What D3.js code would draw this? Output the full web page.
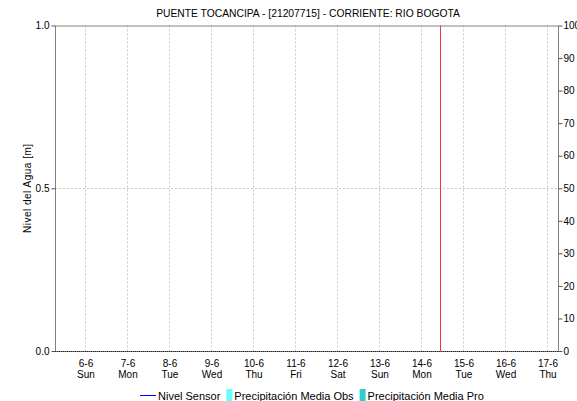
<!DOCTYPE html>
<html>
<head>
<meta charset="utf-8">
<script src="https://d3js.org/d3.v7.min.js"></script>
<style>
  body { margin: 0; background: #fff; }
  svg { display: block; font-family: "Liberation Sans", Arial, sans-serif; }
</style>
</head>
<body>
<svg id="chart" width="577" height="401"></svg>
<script>
// Station and series description
const chartTitle = "PUENTE TOCANCIPA - [21207715] - CORRIENTE: RIO BOGOTA";
const leftAxisTitle = "Nivel del Agua [m]";

// Time window (local dates, June)
const timeStart = new Date(2021, 5, 5, 6, 0);
const timeEnd = new Date(2021, 5, 17, 6, 0);
const dayTicks = d3.range(6, 18).map(d => new Date(2021, 5, d));
const weekdayNames = ["Sun", "Mon", "Tue", "Wed", "Thu", "Fri", "Sat"];

// Current-time marker
const nowMarker = new Date(2021, 5, 14, 10, 30);

// Axis ticks
const levelTicks = [0, 0.5, 1.0];
const rainTicks = d3.range(0, 101, 10);

// Series (no readings in this window: level and rain stay at zero)
const sensorLevel = [
  { t: timeStart, v: 0 },
  { t: timeEnd, v: 0 }
];

const legendItems = [
  { label: "Nivel Sensor", type: "line", color: "#0000ff" },
  { label: "Precipitación Media Obs", type: "rect", color: "#66ffff" },
  { label: "Precipitación Media Pro", type: "rect", color: "#33cccc" }
];

const svg = d3.select("#chart");
const margin = { left: 55, right: 19, top: 25.5, bottom: 50 };
const W = 577, H = 401;
const x0 = margin.left, x1 = W - margin.right;
const y0 = margin.top, y1 = H - margin.bottom;

const x = d3.scaleTime().domain([timeStart, timeEnd]).range([x0, x1]);
const yL = d3.scaleLinear().domain([0, 1]).range([y1, y0]);
const yR = d3.scaleLinear().domain([0, 100]).range([y1, y0]);

const gridColor = "#c8c8c8";
const frameColor = "#808080";
const fs = 10;

// Vertical day grid
svg.append("g").selectAll("line").data(dayTicks).join("line")
  .attr("x1", d => Math.round(x(d)) - 0.5).attr("x2", d => Math.round(x(d)) - 0.5)
  .attr("y1", y0).attr("y2", y1)
  .attr("stroke", gridColor).attr("stroke-dasharray", "2,2");

// Horizontal grid at middle level tick
svg.append("g").selectAll("line").data(levelTicks.filter(v => v > 0 && v < 1)).join("line")
  .attr("x1", x0).attr("x2", x1)
  .attr("y1", d => Math.round(yL(d)) + 0.5).attr("y2", d => Math.round(yL(d)) + 0.5)
  .attr("stroke", gridColor).attr("stroke-dasharray", "2,2");

// Frame
svg.append("path")
  .attr("d", `M${x0 + 0.5},${y1}V${y0 + 0.5}H${x1 + 0.5}V${y1}`)
  .attr("fill", "none").attr("stroke", frameColor);
svg.append("line")
  .attr("x1", x0).attr("x2", x1 + 1).attr("y1", y1 + 0.5).attr("y2", y1 + 0.5)
  .attr("stroke", frameColor);

// Level series (flat at zero)
const line = d3.line().x(d => x(d.t)).y(d => Math.round(yL(d.v)) + 0.5);
svg.append("path").datum(sensorLevel)
  .attr("d", line).attr("fill", "none")
  .attr("stroke", "#222").attr("stroke-dasharray", "1,1");

// Current time marker
svg.append("line")
  .attr("x1", Math.round(x(nowMarker)) + 0.5).attr("x2", Math.round(x(nowMarker)) + 0.5)
  .attr("y1", y0).attr("y2", y1)
  .attr("stroke", "#ff3333").attr("stroke-width", 1);

// Left axis
const leftAxis = svg.append("g").attr("transform", `translate(${x0 + 0.5},0)`)
  .call(d3.axisLeft(yL).tickValues(levelTicks).tickFormat(d3.format(".1f")).tickSize(4));
leftAxis.select(".domain").remove();
leftAxis.selectAll(".tick line").attr("stroke", "#555");
leftAxis.selectAll("text").attr("font-size", fs).attr("fill", "#000").attr("x", -6);

// Right axis
const rightAxis = svg.append("g").attr("transform", `translate(${x1 + 0.5},0)`)
  .call(d3.axisRight(yR).tickValues(rainTicks).tickSize(4));
rightAxis.select(".domain").remove();
rightAxis.selectAll(".tick line").attr("stroke", "#555");
rightAxis.selectAll("text").attr("font-size", fs).attr("fill", "#000").attr("x", 5);

// Bottom axis labels: date and weekday
const bottom = svg.append("g").selectAll("g").data(dayTicks).join("g")
  .attr("transform", d => `translate(${Math.round(x(d))},0)`);
bottom.append("text").attr("y", y1 + 16).attr("text-anchor", "middle")
  .attr("font-size", fs).text(d => `${d.getDate()}-${d.getMonth() + 1}`);
bottom.append("text").attr("y", y1 + 27).attr("text-anchor", "middle")
  .attr("font-size", fs).text(d => weekdayNames[d.getDay()]);

// Title
svg.append("text").attr("x", 308).attr("y", 17)
  .attr("text-anchor", "middle").attr("font-size", 10.3).text(chartTitle);

// Left axis title
svg.append("text")
  .attr("transform", `translate(31,${(y0 + y1) / 2}) rotate(-90)`)
  .attr("text-anchor", "middle").attr("font-size", fs)
  .attr("letter-spacing", "0.5").text(leftAxisTitle);

// Legend
const legend = svg.append("g").attr("transform", "translate(140,400)");
let cx = 0;
legendItems.forEach(item => {
  const g = legend.append("g").attr("transform", `translate(${cx},0)`);
  let off;
  if (item.type === "line") {
    g.append("line").attr("x1", 0).attr("x2", 16).attr("y1", -4.5).attr("y2", -4.5)
      .attr("stroke", item.color);
    off = 18;
  } else {
    g.append("rect").attr("x", 0).attr("y", -11).attr("width", 6).attr("height", 12)
      .attr("fill", item.color);
    off = 8;
  }
  const t = g.append("text").attr("x", off).attr("font-size", 11).attr("fill", "#000").text(item.label);
  cx += off + t.node().getComputedTextLength() + 6;
});
</script>
</body>
</html>
